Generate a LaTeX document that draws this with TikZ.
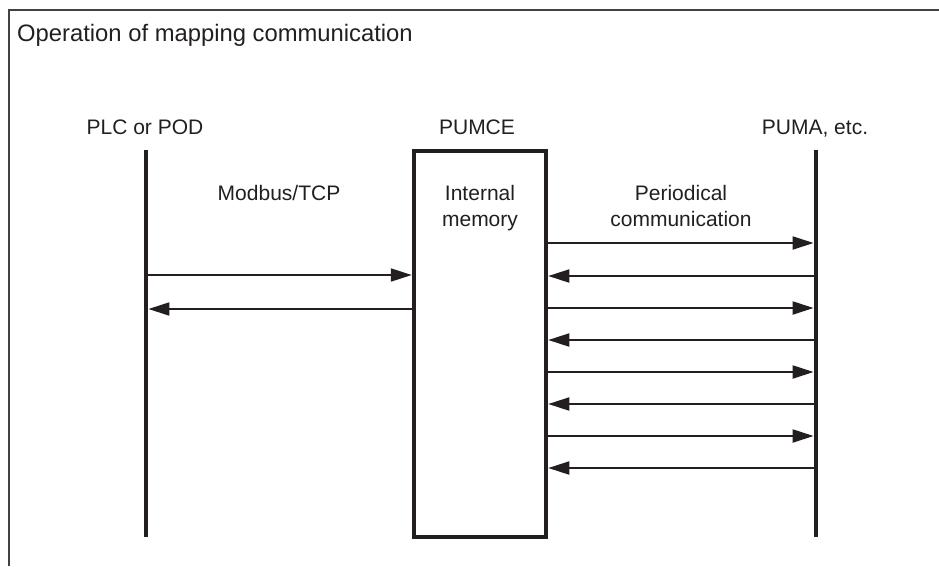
\documentclass[tikz,border=0pt]{standalone}
\usepackage{fontspec}
\setmainfont{Liberation Sans}
\usetikzlibrary{arrows.meta}
\definecolor{ink}{HTML}{231F20}
\begin{document}
\begin{tikzpicture}[x=1pt,y=-1pt,
  lbl/.style={anchor=base,inner sep=0pt,text=ink,font=\fontsize{21}{26.5}\selectfont,align=center},
  lifeline/.style={fill=ink,draw=none,inner sep=0pt,outer sep=0pt,minimum width=4.8pt,minimum height=387pt},
  membox/.style={draw=ink,line width=4.5pt,fill=white,inner sep=0pt,minimum width=132pt,minimum height=386pt},
  msg/.style={draw=ink,line width=2pt,-{Triangle[length=21pt,width=13pt]}},
  frame/.style={draw=ink!85,line width=1.6pt}]
\useasboundingbox (0,0) rectangle (939,566);
\draw[frame] (9,566) -- (9,10) -- (939,10);
\node[anchor=base west,inner sep=0pt,text=ink,font=\fontsize{23.8}{27}\selectfont] (title) at (17,41) {Operation of mapping communication};
% participants
\node[lifeline] (plc) at (146,343.5) {};
\node[lifeline] (puma) at (816,343.5) {};
\node[membox] (mem) at (480,344) {};
\node[lbl] (plclbl) at (145,134) {PLC or POD};
\node[lbl] (pumcelbl) at (477,134) {PUMCE};
\node[lbl] (pumalbl) at (815,134) {PUMA, etc.};
\node[lbl] (modbus) at (279,200) {Modbus/TCP};
\node[lbl] (memlbl) at (480,226.5) {Internal\\memory};
\node[lbl] (perlbl) at (681,226.5) {Periodical\\communication};
% Modbus/TCP messages
\draw[msg] (plc.east |- 0,275) -- (mem.west |- 0,275);
\draw[msg] (mem.west |- 0,309) -- (plc.east |- 0,309);
% periodical messages
\foreach \y in {243,308,372,436} {
  \draw[msg] (mem.east |- 0,\y) -- (puma.west |- 0,\y);
}
\foreach \y in {276,340,404,468} {
  \draw[msg] (puma.west |- 0,\y) -- (mem.east |- 0,\y);
}
\end{tikzpicture}
\end{document}
